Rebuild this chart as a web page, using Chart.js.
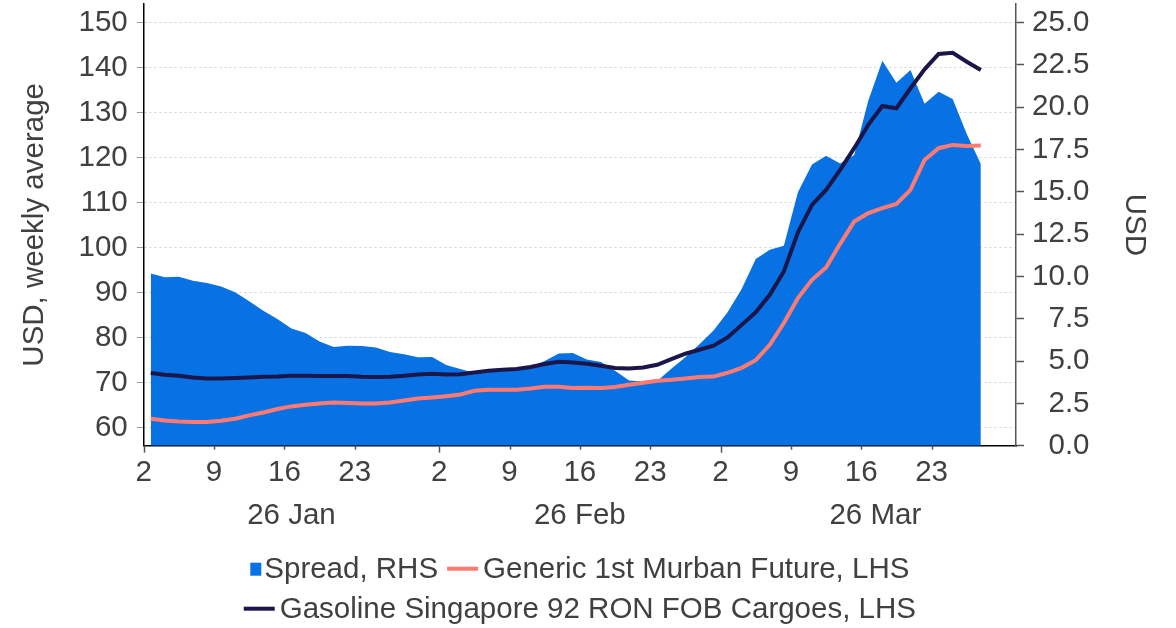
<!DOCTYPE html>
<html>
<head>
<meta charset="utf-8">
<script src="https://cdn.jsdelivr.net/npm/chart.js@4.4.1/dist/chart.umd.min.js"></script>
<style>
html,body{margin:0;padding:0;background:#fff;}
#wrap{width:1176px;height:628px;position:relative;}
</style>
</head>
<body>
<div id="wrap"><canvas id="c" width="1176" height="628"></canvas></div>
<script>
// Business-day categories (Jan 2 – Mar 31, 2026)
const dates = [
 '2026-01-02','2026-01-05','2026-01-06','2026-01-07','2026-01-08','2026-01-09',
 '2026-01-12','2026-01-13','2026-01-14','2026-01-15','2026-01-16',
 '2026-01-19','2026-01-20','2026-01-21','2026-01-22','2026-01-23',
 '2026-01-26','2026-01-27','2026-01-28','2026-01-29','2026-01-30',
 '2026-02-02','2026-02-03','2026-02-04','2026-02-05','2026-02-06',
 '2026-02-09','2026-02-10','2026-02-11','2026-02-12','2026-02-13',
 '2026-02-16','2026-02-17','2026-02-18','2026-02-19','2026-02-20',
 '2026-02-23','2026-02-24','2026-02-25','2026-02-26','2026-02-27',
 '2026-03-02','2026-03-03','2026-03-04','2026-03-05','2026-03-06',
 '2026-03-09','2026-03-10','2026-03-11','2026-03-12','2026-03-13',
 '2026-03-16','2026-03-17','2026-03-18','2026-03-19','2026-03-20',
 '2026-03-23','2026-03-24','2026-03-25','2026-03-26','2026-03-27',
 '2026-03-30','2026-03-31'
];
const lastAxisDate = '2026-03-30';

// Spread, RHS (USD)
const spread = [
 10.18, 9.95, 9.99, 9.75, 9.62, 9.41, 9.06, 8.53, 7.98, 7.49,
 6.93, 6.66, 6.16, 5.83, 5.91, 5.89, 5.81, 5.54, 5.40, 5.22,
 5.24, 4.77, 4.53, 4.3, 4.4, 4.45, 4.5, 4.65, 5.0, 5.45,
 5.48, 5.1, 4.95, 4.43, 3.85, 3.8, 3.82, 4.55, 5.22, 6.0,
 6.8, 7.88, 9.26, 11.03, 11.58, 11.82, 14.97, 16.61, 17.14, 16.68,
 17.18, 20.39, 22.75, 21.44, 22.2, 20.2, 20.92, 20.49, 18.42, 16.65
];
// Generic 1st Murban Future, LHS (USD, weekly average)
const murban = [
 61.93, 61.56, 61.33, 61.2, 61.2, 61.49, 61.93, 62.67, 63.33, 64.09,
 64.67, 65.04, 65.33, 65.56, 65.42, 65.33, 65.33, 65.56, 66.0, 66.44,
 66.67, 66.95, 67.3, 68.16, 68.38, 68.4, 68.38, 68.67, 69.04, 69.04,
 68.76, 68.82, 68.76, 68.98, 69.49, 69.93, 70.38, 70.6, 70.89, 71.2,
 71.3, 72.15, 73.25, 74.95, 78.38, 83.2, 88.76, 92.82, 95.56, 100.82,
 105.78, 107.64, 108.76, 109.71, 112.82, 119.49, 122.09, 122.82, 122.6, 122.67
];
// Gasoline Singapore 92 RON FOB Cargoes, LHS (USD, weekly average)
const gasoline = [
 72.09, 71.71, 71.49, 71.11, 70.89, 70.89, 70.98, 71.1, 71.27, 71.33,
 71.49, 71.49, 71.42, 71.42, 71.42, 71.27, 71.2, 71.27, 71.49, 71.78,
 71.93, 71.75, 71.8, 72.2, 72.6, 72.8, 72.97, 73.42, 74.09, 74.6,
 74.44, 74.16, 73.71, 73.2, 73.11, 73.33, 73.93, 75.2, 76.38, 77.27,
 78.16, 80.0, 82.8, 85.6, 89.49, 94.67, 103.4, 109.49, 112.82, 117.27,
 122.09, 127.27, 131.49, 130.98, 135.42, 139.64, 143.04, 143.33, 141.33, 139.49
];

const tickDates = ['2026-01-02','2026-01-09','2026-01-16','2026-01-23',
                   '2026-02-02','2026-02-09','2026-02-16','2026-02-23',
                   '2026-03-02','2026-03-09','2026-03-16','2026-03-23'];
const months = ['2026-01','2026-02','2026-03'];
const monthLabels = ['26 Jan','26 Feb','26 Mar'];
const leftTicks = [60,70,80,90,100,110,120,130,140,150];
const rightTicks = [0,2.5,5,7.5,10,12.5,15,17.5,20,22.5,25];
const leftTitle = 'USD, weekly average';
const rightTitle = 'USD';

const FONT = "'Liberation Sans', Arial, Helvetica, sans-serif";
const TEXT = '#404040';
const FS = 29.5;
const C_SPREAD = '#0872e5', C_MURBAN = '#ff7a70', C_GAS = '#1b1649';

const toXY = arr => arr.map((v, i) => ({x: i, y: v}));
const noPad = s => { s.paddingTop = 0; s.paddingBottom = 0; s.paddingLeft = 0; s.paddingRight = 0; };

const extras = {
  id: 'extras',
  afterDraw(chart) {
    const {ctx, chartArea: ca} = chart;
    const x = chart.scales.x;
    ctx.save();
    // x tick marks
    ctx.strokeStyle = '#555';
    ctx.lineWidth = 1.5;
    tickDates.forEach(d => {
      const i = dates.indexOf(d);
      const px = Math.round(x.getPixelForValue(i - 0.5)) + 0.5;
      const monthStart = i === 0 || dates[i - 1].slice(0, 7) !== d.slice(0, 7);
      ctx.beginPath();
      ctx.moveTo(px, ca.bottom);
      ctx.lineTo(px, ca.bottom + (monthStart ? 7 : 4));
      ctx.stroke();
    });
    ctx.font = `${FS}px ${FONT}`;
    ctx.fillStyle = TEXT;
    ctx.textAlign = 'center';
    ctx.textBaseline = 'middle';
    // month labels
    months.forEach((m, k) => {
      const first = dates.findIndex(d => d.startsWith(m));
      let last = first;
      dates.forEach((d, i) => { if (d.startsWith(m)) last = i; });
      const cx = (x.getPixelForValue(first - 0.5) + x.getPixelForValue(last + 0.5)) / 2;
      ctx.fillText(monthLabels[k], cx, ca.bottom + 70);
    });
    // right axis title
    ctx.save();
    ctx.translate(1134, (ca.top + ca.bottom) / 2);
    ctx.rotate(Math.PI / 2);
    ctx.fillText(rightTitle, 0, 0);
    ctx.restore();
    // legend
    const byLabel = {};
    chart.data.datasets.forEach(ds => byLabel[ds.label] = ds);
    const rows = [['Spread, RHS', 'Generic 1st Murban Future, LHS'],
                  ['Gasoline Singapore 92 RON FOB Cargoes, LHS']];
    const rowY = [ca.bottom + 123, ca.bottom + 163];
    const centerX = (ca.left + ca.right) / 2;
    ctx.textAlign = 'left';
    rows.forEach((row, r) => {
      const parts = row.map(lbl => {
        const ds = byLabel[lbl];
        const isBox = ds.fill === 'origin';
        const mw = isBox ? 11 : 31;
        const gap = isBox ? 3 : 5;
        const tw = ctx.measureText(lbl).width;
        return {lbl, ds, isBox, mw, gap, tw, w: mw + gap + tw};
      });
      const itemGap = 9;
      const total = parts.reduce((s, p) => s + p.w, 0) + itemGap * (parts.length - 1);
      let px = centerX - total / 2;
      const y = rowY[r];
      parts.forEach(p => {
        if (p.isBox) {
          ctx.fillStyle = p.ds.backgroundColor;
          ctx.fillRect(px, y - 6, p.mw, 13);
        } else {
          ctx.strokeStyle = p.ds.borderColor;
          ctx.lineWidth = 4;
          ctx.beginPath();
          ctx.moveTo(px, y);
          ctx.lineTo(px + p.mw, y);
          ctx.stroke();
        }
        ctx.fillStyle = TEXT;
        ctx.fillText(p.lbl, px + p.mw + p.gap, y + 1);
        px += p.w + itemGap;
      });
    });
    ctx.restore();
  }
};

new Chart(document.getElementById('c'), {
  type: 'line',
  data: {
    datasets: [
      {
        label: 'Gasoline Singapore 92 RON FOB Cargoes, LHS',
        data: toXY(gasoline), yAxisID: 'yL',
        borderColor: C_GAS, backgroundColor: C_GAS, borderWidth: 4,
        pointRadius: 0, fill: false, tension: 0, order: 1
      },
      {
        label: 'Generic 1st Murban Future, LHS',
        data: toXY(murban), yAxisID: 'yL',
        borderColor: C_MURBAN, backgroundColor: C_MURBAN, borderWidth: 4,
        pointRadius: 0, fill: false, tension: 0, order: 2
      },
      {
        label: 'Spread, RHS',
        data: toXY(spread), yAxisID: 'yR',
        borderColor: 'rgba(0,0,0,0)', backgroundColor: C_SPREAD, borderWidth: 0,
        pointRadius: 0, fill: 'origin', tension: 0, order: 3
      }
    ]
  },
  options: {
    responsive: false,
    animation: false,
    devicePixelRatio: 1,
    layout: {padding: {top: 4, left: 0, right: 86.5, bottom: 0}},
    plugins: {legend: {display: false}, tooltip: {enabled: false}},
    scales: {
      x: {
        type: 'linear', position: 'bottom',
        min: -0.5, max: dates.indexOf(lastAxisDate) + 0.5,
        afterBuildTicks: s => { s.ticks = tickDates.map(d => ({value: dates.indexOf(d) - 0.5})); },
        ticks: {
          autoSkip: false, maxRotation: 0, padding: 2,
          font: {family: FONT, size: FS}, color: TEXT,
          callback: v => String(parseInt(dates[Math.round(v + 0.5)].slice(8), 10))
        },
        grid: {drawOnChartArea: false, drawTicks: true, tickLength: 7, tickColor: 'rgba(0,0,0,0)'},
        border: {display: true, color: '#000', width: 1.5},
        afterFit: s => { s.height = 182.3; noPad(s); }
      },
      yL: {
        position: 'left', min: 55.93, max: 154.16,
        afterBuildTicks: s => { s.ticks = leftTicks.map(v => ({value: v})); },
        ticks: {font: {family: FONT, size: FS}, color: TEXT, padding: 9},
        grid: {color: '#c9d4dc', lineWidth: 1, tickLength: 7, tickColor: '#9a9a9a', tickWidth: 1},
        border: {display: true, color: '#000', width: 1.5, dash: [2, 3]},
        title: {display: true, text: leftTitle, color: TEXT,
                font: {family: FONT, size: FS}, padding: {top: 17, bottom: 0}},
        afterFit: s => { s.width = 143.7; noPad(s); }
      },
      yR: {
        position: 'right', min: 0, max: 26.1,
        afterBuildTicks: s => { s.ticks = rightTicks.map(v => ({value: v})); },
        ticks: {font: {family: FONT, size: FS}, color: TEXT, padding: 8, crossAlign: 'far',
                callback: v => Number(v).toFixed(1)},
        grid: {drawOnChartArea: false, tickLength: 8, tickColor: '#555', tickWidth: 1.5},
        border: {display: true, color: '#555', width: 1.5},
        afterFit: s => { s.width = 73.5; noPad(s); }
      }
    }
  },
  plugins: [extras]
});
</script>
</body>
</html>
